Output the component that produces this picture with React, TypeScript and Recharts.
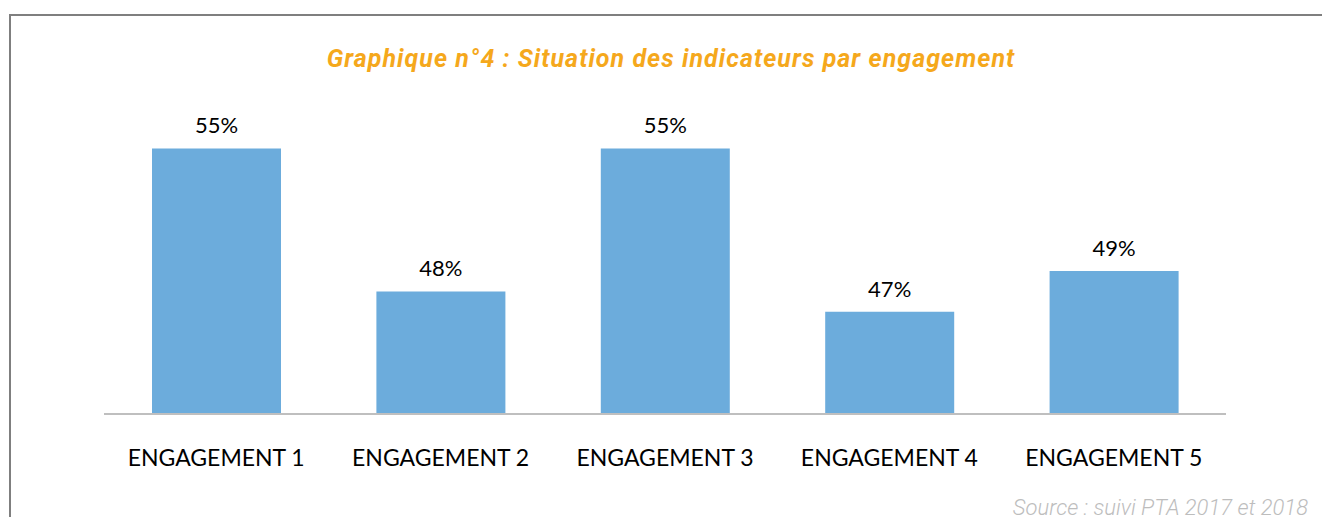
import React from 'react';
import { BarChart, Bar, XAxis, YAxis, LabelList } from 'recharts';

const categories = ['ENGAGEMENT 1', 'ENGAGEMENT 2', 'ENGAGEMENT 3', 'ENGAGEMENT 4', 'ENGAGEMENT 5'];
const values = [55, 48, 55, 47, 49];

const data = categories.map((name, i) => ({ name, value: values[i] }));

const TITLE = 'Graphique n°4 : Situation des indicateurs par engagement';
const SOURCE = 'Source : suivi PTA 2017 et 2018';

const CategoryTick = (props: any) => {
  const { x, y, payload } = props;
  return (
    <text x={x} y={y + 44} textAnchor="middle" fontFamily="Lato, sans-serif" fontSize={23} fill="#000">
      {payload.value}
    </text>
  );
};

const App: React.FC = () => {
  return (
    <div style={{ position: 'relative', width: 1330, height: 525, margin: -8, background: 'white', overflow: 'hidden' }}>
      <div style={{ position: 'absolute', left: 9, top: 14, width: 1330, height: 520, borderLeft: '2px solid #7f7f7f', borderTop: '2px solid #7f7f7f' }} />
      <div
        style={{
          position: 'absolute', left: 0, width: 1330, top: 46, textAlign: 'center', lineHeight: 1,
          fontFamily: 'Roboto, sans-serif', fontWeight: 700, fontStyle: 'italic', fontSize: 25, color: '#F5A81C',
          letterSpacing: 1.05, paddingLeft: 12, boxSizing: 'border-box',
        }}
      >
        {TITLE}
      </div>
      <div
        style={{
          position: 'absolute', right: 22, top: 497, lineHeight: 1,
          fontFamily: 'Roboto, sans-serif', fontWeight: 300, fontStyle: 'italic', fontSize: 22, color: '#bdbdbd',
        }}
      >
        {SOURCE}
      </div>
      <div style={{ position: 'absolute', left: 0, top: 0 }}>
        <BarChart width={1330} height={525} data={data} margin={{ top: 128, right: 104, left: 104, bottom: 51 }} barSize={129}>
          <XAxis dataKey="name" height={60} axisLine={{ stroke: '#bfbfbf', strokeWidth: 2 }} tickLine={false} tick={<CategoryTick />} interval={0} />
          <YAxis hide domain={[42, 56]} allowDataOverflow />
          <Bar dataKey="value" fill="#6CACDC" isAnimationActive={false}>
            <LabelList dataKey="value" position="top" offset={15} formatter={(v: any) => `${v}%`} fontFamily="Lato, sans-serif" fontSize={22} fill="#000" />
          </Bar>
        </BarChart>
      </div>
    </div>
  );
};

export default App;
